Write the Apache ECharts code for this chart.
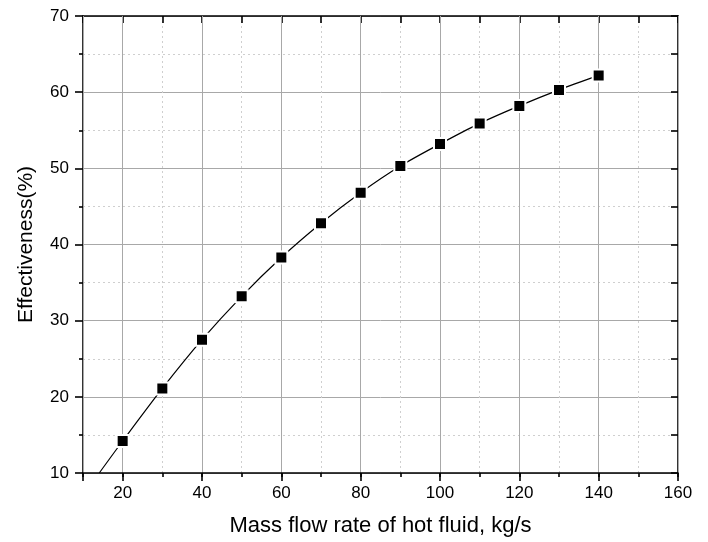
<!DOCTYPE html>
<html>
<head>
<meta charset="utf-8">
<title>Effectiveness vs mass flow rate</title>
<script src="https://cdn.jsdelivr.net/npm/echarts@6/dist/echarts.min.js"></script>
<style>
html,body{margin:0;padding:0;background:#fff;}
#chart{width:708px;height:542px;}
</style>
</head>
<body>
<div id="chart"></div>
<script>
// 数据
var flowRate = [20, 30, 40, 50, 60, 70, 80, 90, 100, 110, 120, 130, 140];
var effectiveness = [14.2, 21.1, 27.5, 33.2, 38.3, 42.8, 46.8, 50.3, 53.2, 55.9, 58.2, 60.3, 62.2];
// 曲线在下边界处的起点
var curveStart = [14.1, 10];

var points = [];
for (var i = 0; i < flowRate.length; i++) {
    points.push([flowRate[i], effectiveness[i]]);
}
var curve = [curveStart].concat(points);

var font = 'Liberation Sans, Arial, sans-serif';
var black = {color: '#000', width: 1.6};

var myChart = echarts.init(document.getElementById('chart'));

var option = {
    animation: false,
    backgroundColor: '#fff',
    grid: {left: 83, top: 16, right: 30, bottom: 68, containLabel: false},
    xAxis: [
        {   // 主刻度 20,40,...  带标签和实线网格
            type: 'value', position: 'bottom', min: 10, max: 160, splitNumber: 8, z: 1,
            axisLine: {show: true, onZero: false, lineStyle: black},
            axisTick: {show: true, length: 8, lineStyle: black},
            axisLabel: {
                color: '#000', fontFamily: font, fontSize: 17, margin: 12,
                formatter: function (v) { return v == 10 ? '' : v; }
            },
            splitLine: {show: true, lineStyle: {color: '#a8a8a8', width: 1}},
            name: 'Mass flow rate of hot fluid, kg/s',
            nameLocation: 'middle', nameGap: 42,
            nameTextStyle: {color: '#000', fontFamily: font, fontSize: 22}
        },
        {   // 次刻度 每10 虚线网格
            type: 'value', position: 'bottom', min: 10, max: 160, interval: 10, z: 0,
            axisLine: {show: false, onZero: false},
            axisTick: {show: true, length: 4, lineStyle: black},
            axisLabel: {show: false},
            splitLine: {show: true, lineStyle: {color: '#cfcfcf', width: 1, type: [2, 3]}}
        },
        {   // 上边框
            type: 'value', position: 'top', min: 10, max: 160, interval: 10,
            axisLine: {show: true, onZero: false, lineStyle: black},
            axisTick: {show: true, inside: true, length: 7, lineStyle: black},
            axisLabel: {show: false},
            splitLine: {show: false}
        }
    ],
    yAxis: [
        {
            type: 'value', position: 'left', min: 10, max: 70, interval: 10,
            axisLine: {show: true, onZero: false, lineStyle: black},
            axisTick: {show: true, length: 8, lineStyle: black},
            minorTick: {show: true, splitNumber: 2, length: 4, lineStyle: black},
            axisLabel: {color: '#000', fontFamily: font, fontSize: 17, margin: 14},
            splitLine: {show: true, lineStyle: {color: '#a8a8a8', width: 1}},
            minorSplitLine: {show: true, lineStyle: {color: '#cfcfcf', width: 1, type: [2, 3]}},
            name: 'Effectiveness(%)',
            nameLocation: 'middle', nameGap: 46,
            nameTextStyle: {color: '#000', fontFamily: font, fontSize: 21}
        },
        {   // 右边框
            type: 'value', position: 'right', min: 10, max: 70, interval: 5,
            axisLine: {show: true, onZero: false, lineStyle: black},
            axisTick: {show: true, inside: true, length: 7, lineStyle: black},
            axisLabel: {show: false},
            splitLine: {show: false}
        }
    ],
    series: [
        {
            name: 'curve',
            type: 'line',
            data: curve,
            smooth: 0.3,
            showSymbol: false,
            lineStyle: {color: '#000', width: 1.2},
            z: 2
        },
        {
            name: 'points',
            type: 'scatter',
            data: points,
            symbol: 'rect',
            symbolSize: 12,
            itemStyle: {color: '#000', borderColor: '#fff', borderWidth: 2, opacity: 1},
            z: 3
        }
    ]
};

myChart.setOption(option);
</script>
</body>
</html>
